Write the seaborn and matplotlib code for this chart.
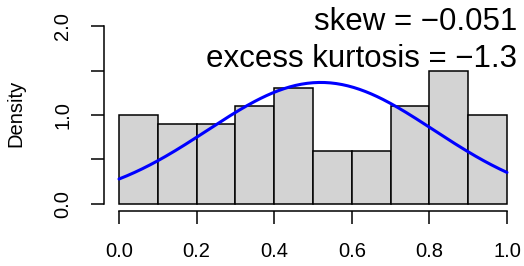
import numpy as np
import pandas as pd
import seaborn as sns
from matplotlib import pyplot as plt

# histogram data (bin edges + counts)
bin_edges = [0.0, 0.1, 0.2, 0.3, 0.4, 0.5, 0.6, 0.7, 0.8, 0.9, 1.0]
bin_counts = [10, 9, 9, 11, 13, 6, 6, 11, 15, 10]
bin_mids = [0.05, 0.15, 0.25, 0.35, 0.45, 0.55, 0.65, 0.75, 0.85, 0.95]

# fitted normal curve parameters
fit_mean = 0.52
fit_sd = 0.292

x_ticks = [0.0, 0.2, 0.4, 0.6, 0.8, 1.0]
x_labels = ["0.0", "0.2", "0.4", "0.6", "0.8", "1.0"]
y_ticks = [0.0, 0.5, 1.0, 1.5, 2.0]
y_labels = ["0.0", "", "1.0", "", "2.0"]

skew_text = "skew = \u22120.051"
kurt_text = "excess kurtosis = \u22121.3"

sns.set_theme(style="ticks")
plt.rcParams["font.family"] = ["Liberation Sans", "DejaVu Sans"]
plt.rcParams["text.color"] = "black"
plt.rcParams["xtick.color"] = "black"
plt.rcParams["ytick.color"] = "black"
plt.rcParams["axes.edgecolor"] = "black"

fig = plt.figure(figsize=(5.24, 2.66), dpi=100)
ax = fig.add_axes([103.5 / 524, 1 - 211 / 266, 419 / 524, 192 / 266])

df = pd.DataFrame({"x": bin_mids, "w": bin_counts})
sns.histplot(data=df, x="x", weights="w", bins=bin_edges, stat="density",
             color="#D3D3D3", edgecolor="black", linewidth=1.1, alpha=1, ax=ax)

# normal density curve
xs = np.linspace(0, 1, 201)
ys = np.exp(-0.5 * ((xs - fit_mean) / fit_sd) ** 2) / (fit_sd * np.sqrt(2 * np.pi))
sns.lineplot(x=xs, y=ys, color="blue", linewidth=2.2, ax=ax)

ax.set_xlim(-0.04, 1.04)
ax.set_ylim(-0.08, 2.08)

ax.set_xticks(x_ticks)
ax.set_xticklabels(x_labels)
ax.set_yticks(y_ticks)
ax.set_yticklabels(y_labels, rotation=90, va="center")
ax.tick_params(axis="both", labelsize=14.5, length=9.4, width=1.1,
               color="black", labelcolor="black")
ax.tick_params(axis="x", pad=13)
ax.tick_params(axis="y", pad=13)

for s in ["top", "right"]:
    ax.spines[s].set_visible(False)
ax.spines["left"].set_bounds(0, 2)
ax.spines["bottom"].set_bounds(0, 1)
ax.spines["left"].set_linewidth(1.1)
ax.spines["bottom"].set_linewidth(1.1)

ax.set_xlabel("")
ax.set_ylabel("")
fig.text(16 / 524, 1 - 113 / 266, "Density", rotation=90, va="center", ha="center",
         fontsize=14.5, color="black")

ax.text(1.026, 1.955, skew_text, ha="right", va="baseline", fontsize=22.5, color="black")
ax.text(1.026, 1.54, kurt_text, ha="right", va="baseline", fontsize=22.5, color="black")

fig.savefig("out.png", dpi=100)
